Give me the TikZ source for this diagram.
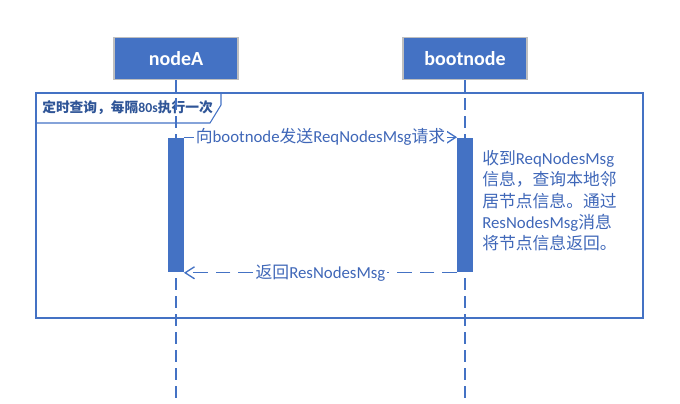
\documentclass[tikz,border=0pt]{standalone}
\usepackage{fontspec}
\setmainfont{Carlito}
\newfontfamily\cjk{Noto Sans CJK SC}
\newcommand\zh[1]{{\cjk #1}}
\usetikzlibrary{arrows.meta}
\definecolor{accent}{HTML}{4472C4}
\definecolor{txtblue}{HTML}{3F67B8}
\definecolor{tabtxt}{HTML}{2F5597}
\begin{document}
\begin{tikzpicture}[x=0.75pt,y=-0.75pt,
  actor/.style={draw=black!25, line width=0.8pt, fill=accent, text=white, font=\fontsize{15}{18}\selectfont\bfseries, minimum width=93pt, minimum height=32pt, inner sep=0pt},
  lifeline/.style={draw=accent, line width=1.1pt, dash pattern=on 9pt off 4.5pt},
  actbar/.style={fill=accent, draw=none, minimum width=11.5pt, minimum height=100.5pt, inner sep=0pt},
  msg/.style={draw=accent, line width=1pt, -{Straight Barb[length=7pt,width=9pt,line width=1pt]}},
  msglabel/.style={fill=white, text=txtblue, font=\fontsize{12.6}{15}\selectfont, inner sep=1pt},
  frameline/.style={draw=accent, line width=0.8pt}
]
\useasboundingbox (0,0) rectangle (680,403);
% actors
\node[actor] (A) at (176,58.5) {nodeA};
\node[actor] (B) at (465,58.5) {bootnode};
\coordinate (Aend) at (176,403);
\coordinate (Bend) at (465,403);
% frame
\draw[frameline] (36,93) rectangle (643,318);
\draw[frameline] (36,123) -- (210,123) -- (221,105) -- (221,93);
\node[anchor=west, text=tabtxt, font=\fontsize{10.3}{12}\selectfont\bfseries, inner sep=0pt] (tab) at (42,108) {\zh{定时查询，每隔}80s\zh{执行一次}};
% lifelines
\draw[lifeline] (A.south) -- (Aend);
\draw[lifeline] (B.south) -- (Bend);
% activation bars
\node[actbar] (barA) at (176,204.5) {};
\node[actbar] (barB) at (465,204.5) {};
% messages
\draw[msg] (barA.north east) -- node[msglabel] (m1) {\zh{向}bootnode\zh{发送}ReqNodesMsg\zh{请求}} (barB.north west);
\draw[msg, dash pattern=on 11pt off 6pt] ([yshift=-0.75pt]barB.south west) -- node[msglabel] (m2) {\zh{返回}ResNodesMsg} ([yshift=-0.75pt]barA.south east);
% note
\node[anchor=north west, align=left, text=txtblue, font=\fontsize{12.6}{16}\selectfont, inner sep=0pt] (note) at (482,150)
 {\zh{收到}ReqNodesMsg\\ \zh{信息，查询本地邻}\\ \zh{居节点信息。通过}\\ ResNodesMsg\zh{消息}\\ \zh{将节点信息返回。}};
\end{tikzpicture}
\end{document}
